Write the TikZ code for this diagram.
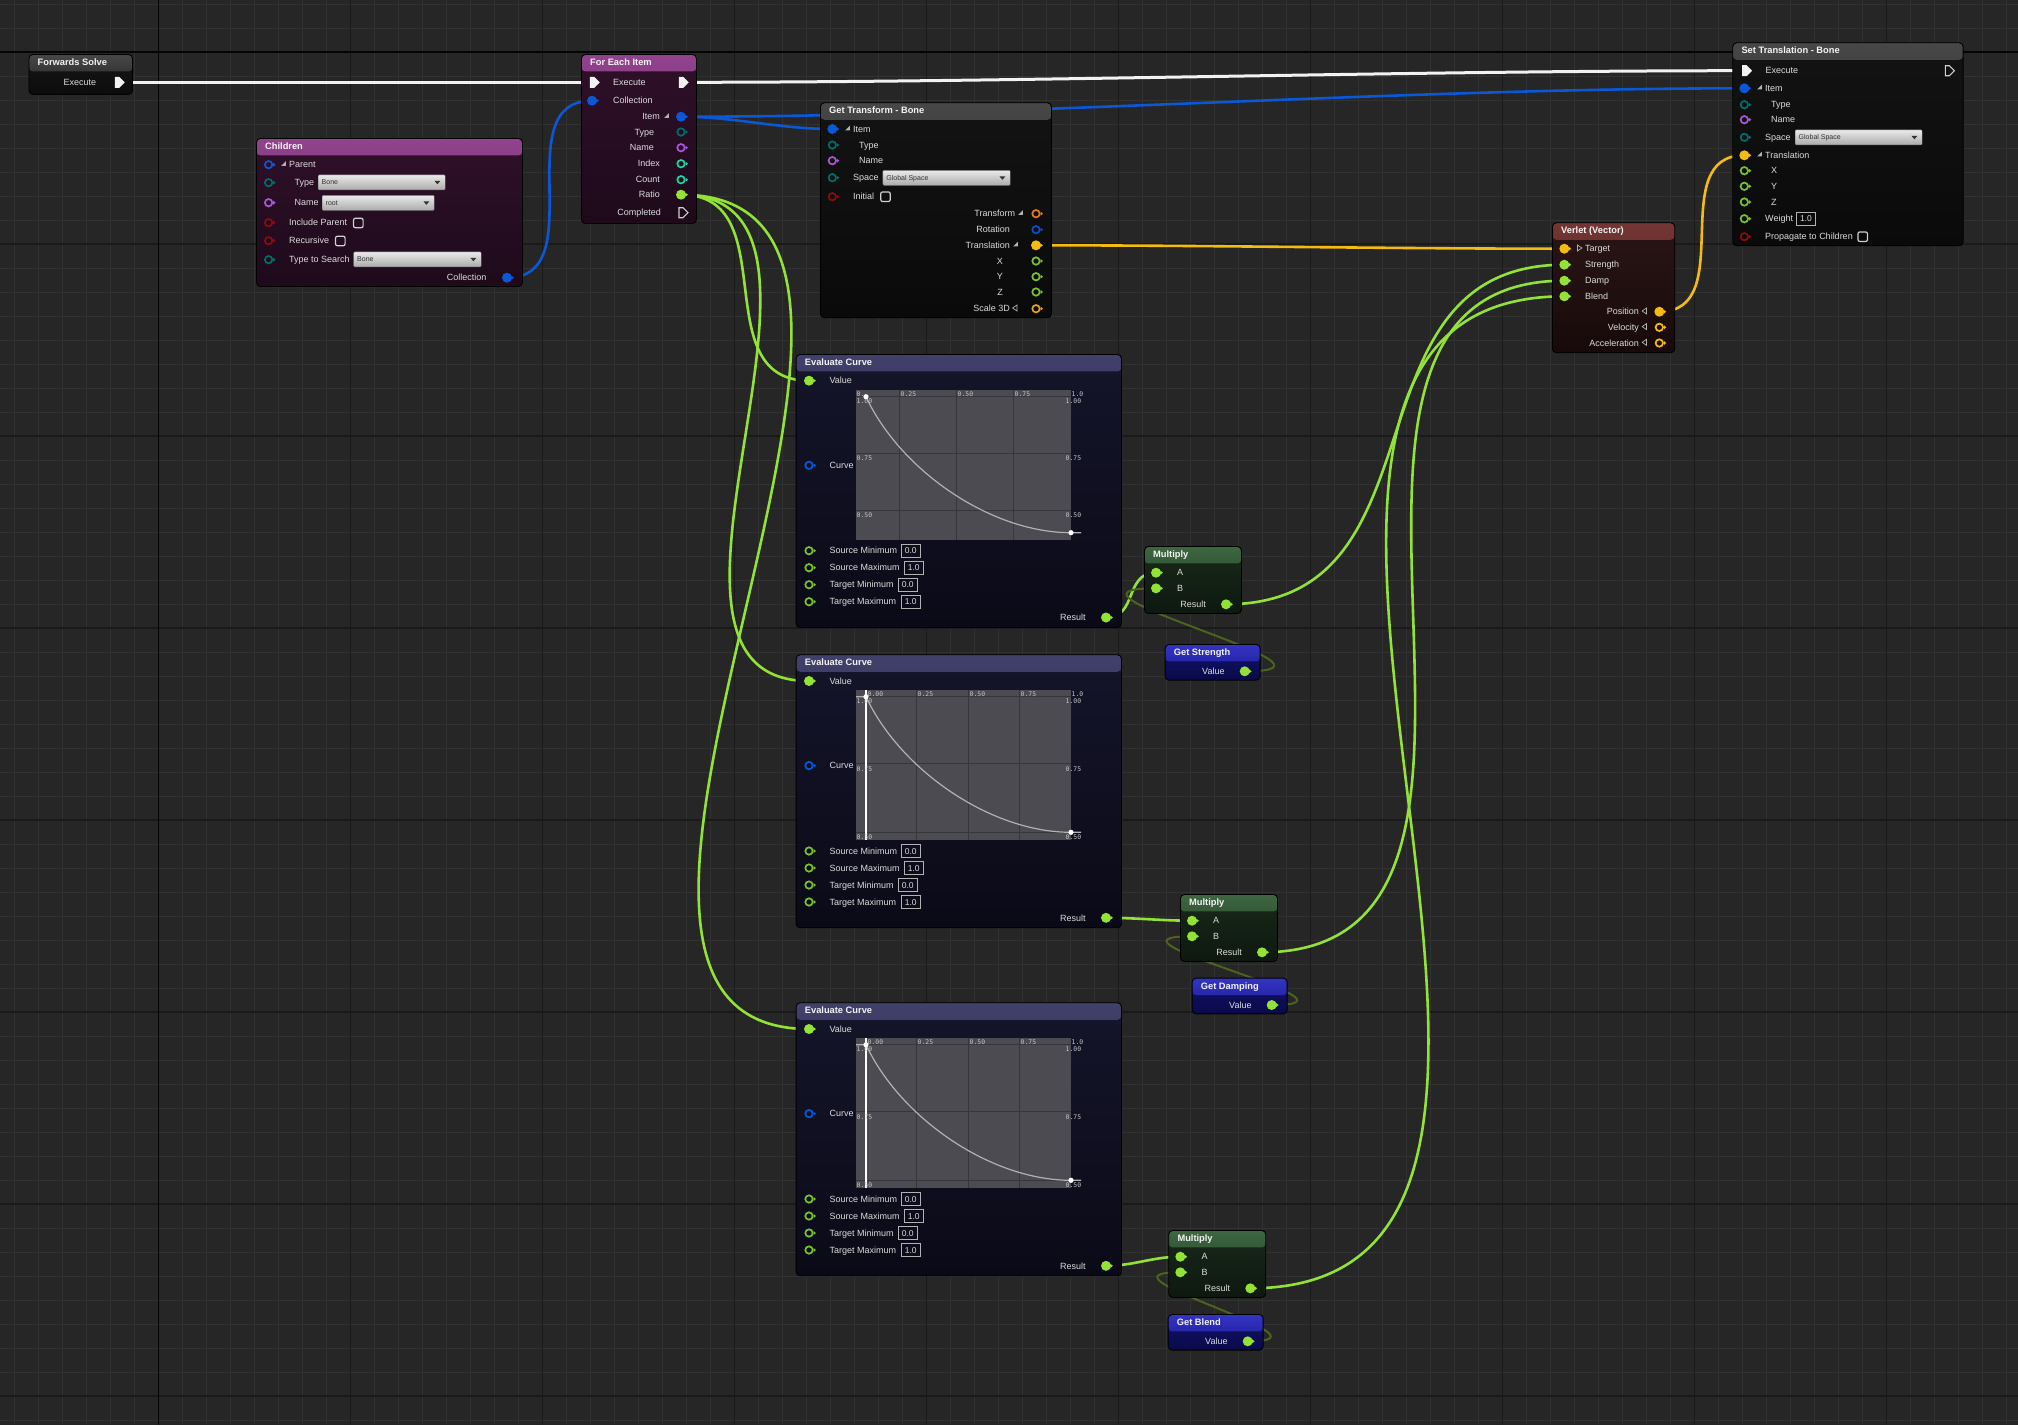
\documentclass[tikz,border=0pt]{standalone}
\usepackage{fontspec}
\setmainfont{Liberation Sans}
\setmonofont{DejaVu Sans Mono}
\usepackage{tikz}
\usetikzlibrary{
  shapes.symbols,
  calc
}
\definecolor{ueBg}{HTML}{262626}
\definecolor{ueMinor}{HTML}{323232}
\definecolor{ueMajor}{HTML}{1A1A1A}
\definecolor{ueAxis}{HTML}{050505}
\definecolor{ueText}{HTML}{DCDCDC}
\definecolor{ueTitle}{HTML}{F4F4F4}
\definecolor{hdExecA}{HTML}{484848}
\definecolor{hdExecB}{HTML}{202020}
\definecolor{bdExecA}{HTML}{171717}
\definecolor{bdExecB}{HTML}{0C0C0C}
\definecolor{hdPurA}{HTML}{93438E}
\definecolor{hdPurB}{HTML}{561D51}
\definecolor{bdPurA}{HTML}{2F1029}
\definecolor{bdPurB}{HTML}{1E0A1B}
\definecolor{hdGreyA}{HTML}{474747}
\definecolor{hdGreyB}{HTML}{1E1E1E}
\definecolor{bdGreyA}{HTML}{131313}
\definecolor{bdGreyB}{HTML}{0A0A0A}
\definecolor{hdVerA}{HTML}{743634}
\definecolor{hdVerB}{HTML}{421A19}
\definecolor{bdVerA}{HTML}{2B1515}
\definecolor{bdVerB}{HTML}{170A0A}
\definecolor{hdCurA}{HTML}{40406A}
\definecolor{hdCurB}{HTML}{1C1C38}
\definecolor{bdCurA}{HTML}{15152B}
\definecolor{bdCurB}{HTML}{0A0A17}
\definecolor{hdMulA}{HTML}{3E6741}
\definecolor{hdMulB}{HTML}{1A331C}
\definecolor{bdMulA}{HTML}{18291A}
\definecolor{bdMulB}{HTML}{0E180F}
\definecolor{hdVarA}{HTML}{3434C4}
\definecolor{hdVarB}{HTML}{18188E}
\definecolor{bdVarA}{HTML}{12126E}
\definecolor{bdVarB}{HTML}{0A0A48}
\definecolor{pinExec}{HTML}{F2F2F2}
\definecolor{pinStruct}{HTML}{0A58D6}
\definecolor{pinEnum}{HTML}{006E68}
\definecolor{pinName}{HTML}{A957D9}
\definecolor{pinInt}{HTML}{1FD3A0}
\definecolor{pinBool}{HTML}{8C0B0B}
\definecolor{pinFloat}{HTML}{93E236}
\definecolor{pinFloatR}{HTML}{78C42C}
\definecolor{pinVec}{HTML}{F4BC12}
\definecolor{pinXform}{HTML}{E47A12}
\definecolor{pinRot}{HTML}{0A4FC8}
\definecolor{pinScale}{HTML}{E2A516}
\definecolor{wireDim}{HTML}{4A6420}
\definecolor{curveBg}{HTML}{4B4B51}
\definecolor{curveGrid}{HTML}{36363B}
\pgfdeclarelayer{grid}
\pgfdeclarelayer{wires}
\pgfsetlayers{grid,wires,main}
\tikzset{
  gminor/.style={ueMinor, line width=1pt},
  gmajor/.style={ueMajor, line width=1.2pt},
  gaxis/.style={ueAxis, line width=1.4pt},
  uebox/.style n args={4}{
    draw=black, line width=0.9pt, rounded corners=4pt, inner sep=0pt,
    top color=#3, bottom color=#4,
    path picture={\shade[top color=#1, bottom color=#2]
      (path picture bounding box.north west) rectangle ([yshift=-17pt]path picture bounding box.north east);}
  },
  thexec/.style={uebox={hdExecA}{hdExecB}{bdExecA}{bdExecB}},
  thpur/.style={uebox={hdPurA}{hdPurB}{bdPurA}{bdPurB}},
  thgrey/.style={uebox={hdGreyA}{hdGreyB}{bdGreyA}{bdGreyB}},
  thver/.style={uebox={hdVerA}{hdVerB}{bdVerA}{bdVerB}},
  thcurve/.style={uebox={hdCurA}{hdCurB}{bdCurA}{bdCurB}},
  thmul/.style={uebox={hdMulA}{hdMulB}{bdMulA}{bdMulB}},
  thvar/.style={uebox={hdVarA}{hdVarB}{bdVarA}{bdVarB}},
  uetitle/.style={font=\bfseries\fontsize{9.3}{10}\selectfont, text=ueTitle, inner sep=0pt,
    text height=6.7pt, text depth=0pt},
  lbl/.style={font=\fontsize{9}{10}\selectfont, text=ueText, inner sep=0pt,
    text height=6.4pt, text depth=0pt},
  pinfill/.style={circle, fill=#1, inner sep=0pt, minimum size=10pt},
  pinring/.style={circle, draw=#1, line width=1.7pt, inner sep=0pt, minimum size=7.4pt},
  pexecon/.style={signal, signal to=east, fill=pinExec, inner sep=0pt,
    minimum width=10pt, minimum height=11pt},
  pexecoff/.style={signal, signal to=east, draw=pinExec!85!black, line width=1.1pt,
    inner sep=0pt, minimum width=9pt, minimum height=10pt},
  dropbox/.style={draw=black!55, top color=black!8, bottom color=black!33,
    rounded corners=1pt, minimum height=15pt, inner sep=0pt},
  droptext/.style={font=\fontsize{7}{8}\selectfont, text=black!80, inner sep=0pt,
    text height=5pt, text depth=0pt},
  chkbox/.style={draw=black!18, line width=1.2pt, rounded corners=2pt,
    minimum size=9.6pt, inner sep=0pt},
  valbox/.style={draw=black!30, line width=0.8pt, minimum height=12.5pt, minimum width=19pt,
    inner sep=0pt, font=\fontsize{8.5}{9}\selectfont, text=ueText, text height=6pt, text depth=0pt},
  iconc/.style={black!30},
  curvegrid/.style={curveGrid, line width=0.9pt},
  curvelbl/.style={font=\ttfamily\fontsize{6.4}{7}\selectfont, text=black!22, inner sep=0pt,
    anchor=west, text height=4.6pt, text depth=0pt},
  curveline/.style={black!30, line width=1.2pt},
  wexec/.style={pinExec, line width=3pt},
  wstruct/.style={pinStruct, line width=2.6pt},
  wvec/.style={pinVec, line width=2.6pt},
  wfloat/.style={pinFloat, line width=2.6pt},
  wdim/.style={wireDim, line width=2pt}
}
\newcommand{\uenode}[7]{%
  \node[#2, minimum width=#5pt, minimum height=#6pt, anchor=north west] (#1) at (#3,#4) {};
  \node[uetitle, anchor=west] (#1-title) at ([xshift=9pt,yshift=-8.3pt]#1.north west) {#7};}
\newcommand{\pinon}[4]{%
  \node[pinfill=#4] (#1) at (#2,#3) {};
  \fill[#4] ([xshift=4.3pt,yshift=2.1pt]#1.center) -- ++(2.6pt,-2.1pt) -- ++(-2.6pt,-2.1pt) -- cycle;}
\newcommand{\pinoff}[4]{%
  \node[pinring=#4] (#1) at (#2,#3) {};
  \fill[#4] ([xshift=4.6pt,yshift=2pt]#1.center) -- ++(2.4pt,-2pt) -- ++(-2.4pt,-2pt) -- cycle;}
\newcommand{\lblL}[4]{\node[lbl, anchor=west] (#1) at (#2,#3) {#4};}
\newcommand{\lblR}[4]{\node[lbl, anchor=east] (#1) at (#2,#3) {#4};}
\newcommand{\expicon}[2]{\fill[iconc] ({#1-2.4},{#2+2.4}) -- ({#1+2.4},{#2+2.4}) -- ({#1+2.4},{#2-2.4}) -- cycle;}
\newcommand{\inicon}[2]{\draw[iconc, line width=0.7pt] ({#1-2},{#2-3}) -- ({#1+2.4},{#2}) -- ({#1-2},{#2+3}) -- cycle;}
\newcommand{\outicon}[2]{\draw[iconc, line width=0.7pt] ({#1+2},{#2-3}) -- ({#1-2.4},{#2}) -- ({#1+2},{#2+3}) -- cycle;}
\newcommand{\uedrop}[5]{%
  \node[dropbox, minimum width=#4pt, anchor=west] (#1) at (#2,#3) {};
  \node[droptext, anchor=west] (#1-t) at ([xshift=3.5pt]#1.west) {#5};
  \fill[black!80] ([xshift=-11pt,yshift=1.5pt]#1.east) -- ++(6pt,0) -- ++(-3pt,-3.5pt) -- cycle;}
\newcommand{\wire}[4]{\draw[#1] (#2.center) .. controls +(#4,0) and +(-#4,0) .. (#3.center);}
\newcommand{\uemult}[3]{%
  \uenode{#1}{thmul}{#2}{#3}{97}{67}{Multiply}
  \pinon{#1-a}{#2+12}{#3+26.7}{pinFloat}
  \pinon{#1-b}{#2+12}{#3+42.3}{pinFloat}
  \pinon{#1-res}{#2+82}{#3+58.3}{pinFloat}
  \lblL{#1-la}{#2+33}{#3+26.7}{A}
  \lblL{#1-lb}{#2+33}{#3+42.3}{B}
  \lblR{#1-lr}{#2+62}{#3+58.3}{Result}}
\newcommand{\uegetvar}[4]{%
  \uenode{#1}{thvar}{#2}{#3}{95}{35.7}{#4}
  \pinon{#1-val}{#2+80}{#3+27.3}{pinFloat}
  \lblR{#1-lv}{#2+60}{#3+27.3}{Value}}
\newcommand{\uecurve}[3]{%
  \fill[curveBg] (856,#2+36) rectangle (1071,#2+185.7);
  \ifnum#3=1
    \foreach \gx in {899.3,956.3,1013.3} \draw[curvegrid] (\gx,#2+36) -- (\gx,#2+185.7);
    \foreach \gy in {42.7,99.3,156} \draw[curvegrid] (856,#2+\gy) -- (1071,#2+\gy);
    \foreach \lx/\lt [count=\i] in {856.5/0.,900.5/0.25,957.5/0.50,1014.5/0.75,1071.5/1.0}
      \node[curvelbl] (#1-top\i) at (\lx,#2+40.5) {\lt};
    \foreach \gy/\lt [count=\i] in {47/1.00,104.3/0.75,161.3/0.50} {
      \node[curvelbl] (#1-left\i) at (856.5,#2+\gy) {\lt};
      \node[curvelbl] (#1-right\i) at (1065.5,#2+\gy) {\lt};}
    \draw[curveline] (866,#2+42.7) .. controls (900,#2+115.8) and (990,#2+178.7) .. (1071,#2+178.7) -- (1081,#2+178.7);
    \fill[white] (866,#2+42.7) circle (2.6pt) (1071,#2+178.7) circle (2.6pt);
  \else
    \foreach \gx in {916.7,968.7,1019.7} \draw[curvegrid] (\gx,#2+36) -- (\gx,#2+185.7);
    \foreach \gy in {42.4,109,178} \draw[curvegrid] (856,#2+\gy) -- (1071,#2+\gy);
    \draw[white, line width=1.2pt] (866,#2+36) -- (866,#2+185.7);
    \foreach \lx/\lt [count=\i] in {867.5/0.00,917.5/0.25,969.5/0.50,1020.5/0.75,1071.5/1.0}
      \node[curvelbl] (#1-top\i) at (\lx,#2+39.7) {\lt};
    \foreach \gy/\lt [count=\i] in {47/1.00,115/0.75,183/0.50} {
      \node[curvelbl] (#1-left\i) at (856.5,#2+\gy) {\lt};
      \node[curvelbl] (#1-right\i) at (1065.5,#2+\gy) {\lt};}
    \draw[curveline] (856,#2+42.4) -- (866,#2+42.4) .. controls (900,#2+115.2) and (990,#2+178) .. (1071,#2+178) -- (1081,#2+178);
    \fill[white] (866,#2+42.4) circle (2.6pt) (1071,#2+178) circle (2.6pt);
  \fi}

\begin{document}
\begin{tikzpicture}[x=1pt, y=-1pt]
  \useasboundingbox (0,0) rectangle (2018,1425);
  \begin{pgfonlayer}{grid}
    \fill[ueBg] (0,0) rectangle (2018,1425);
    \foreach \i in {0,...,83} \draw[gminor] ({14.3+24*\i},0) -- ++(0,1425);
    \foreach \i in {0,...,59} \draw[gminor] (0,{4+24*\i}) -- ++(2018,0);
    \foreach \i in {0,...,10} \draw[gmajor] ({-33.7+192*\i},0) -- ++(0,1425);
    \foreach \i in {0,...,7} \draw[gmajor] (0,{52+192*\i}) -- ++(2018,0);
    \draw[gaxis] (158.3,0) -- ++(0,1425);
    \draw[gaxis] (0,52) -- ++(2018,0);
  \end{pgfonlayer}

  % Forwards Solve
  \uenode{fs}{thexec}{28.5}{54}{103.5}{40}{Forwards Solve}
  \lblR{fs-l1}{96.4}{82.3}{Execute}
  \node[pexecon] (fs-exec) at (117,82.3) {};

  % For Each Item
  \uenode{fe}{thpur}{581}{54}{115}{169}{For Each Item}
  \node[pexecon] (fe-exec) at (592,82.3) {};
  \lblL{fe-l1}{613}{82.3}{Execute}
  \pinon{fe-coll}{592}{100.7}{pinStruct}
  \lblL{fe-l2}{613}{100.7}{Collection}
  \node[pexecon] (fe-then) at (681,82.3) {};
  \pinon{fe-item}{681}{116.7}{pinStruct}
  \lblR{fe-l3}{660}{116.7}{Item}
  \expicon{666.5}{115.5}
  \pinoff{fe-type}{681}{132}{pinEnum}
  \lblR{fe-l4}{654.3}{132}{Type}
  \pinoff{fe-name}{681}{147.7}{pinName}
  \lblR{fe-l5}{654}{147.7}{Name}
  \pinoff{fe-index}{681}{163.7}{pinInt}
  \lblR{fe-l6}{660}{163.7}{Index}
  \pinoff{fe-count}{681}{179.7}{pinInt}
  \lblR{fe-l7}{660}{179.7}{Count}
  \pinon{fe-ratio}{681}{194.7}{pinFloat}
  \lblR{fe-l8}{660}{194.7}{Ratio}
  \node[pexecoff] (fe-done) at (681,212.7) {};
  \lblR{fe-l9}{661}{212.7}{Completed}

  % Children
  \uenode{ch}{thpur}{256}{138}{266}{148}{Children}
  \pinoff{ch-parent}{268.6}{164.7}{pinStruct}
  \expicon{283.5}{163.5}
  \lblL{ch-l1}{289}{164.7}{Parent}
  \pinoff{ch-type}{268.6}{182.7}{pinEnum}
  \lblL{ch-l2}{294.3}{182.7}{Type}
  \uedrop{ch-typedd}{318}{182.3}{127}{Bone}
  \pinoff{ch-name}{268.6}{202.7}{pinName}
  \lblL{ch-l3}{294.3}{202.7}{Name}
  \uedrop{ch-namedd}{322}{202.8}{112}{root}
  \pinoff{ch-incl}{268.6}{222.7}{pinBool}
  \lblL{ch-l4}{289}{222.7}{Include Parent}
  \node[chkbox] (ch-inclbox) at (358.3,223) {};
  \pinoff{ch-rec}{268.6}{240.7}{pinBool}
  \lblL{ch-l5}{289}{240.7}{Recursive}
  \node[chkbox] (ch-recbox) at (340.3,241) {};
  \pinoff{ch-search}{268.6}{259.7}{pinEnum}
  \lblL{ch-l6}{289}{259.7}{Type to Search}
  \uedrop{ch-searchdd}{353.5}{259.3}{127.5}{Bone}
  \pinon{ch-coll}{507}{277.7}{pinStruct}
  \lblR{ch-l7}{486.7}{277.7}{Collection}

  % Get Transform - Bone
  \uenode{gt}{thgrey}{820}{102.3}{231}{215}{Get Transform - Bone}
  \pinon{gt-item}{832.3}{129}{pinStruct}
  \expicon{847.5}{128}
  \lblL{gt-l1}{853}{129}{Item}
  \pinoff{gt-type}{832.3}{145}{pinEnum}
  \lblL{gt-l2}{859}{145}{Type}
  \pinoff{gt-name}{832.3}{160.7}{pinName}
  \lblL{gt-l3}{859}{160.7}{Name}
  \pinoff{gt-space}{832.3}{177.7}{pinEnum}
  \lblL{gt-l4}{853}{177.7}{Space}
  \uedrop{gt-spacedd}{882.7}{177.8}{127.3}{Global Space}
  \pinoff{gt-init}{832.3}{196.7}{pinBool}
  \lblL{gt-l5}{853}{196.7}{Initial}
  \node[chkbox] (gt-initbox) at (885.5,196.7) {};
  \pinoff{gt-xform}{1036}{213.7}{pinXform}
  \lblR{gt-l6}{1015.3}{213.7}{Transform}
  \expicon{1020.5}{212.5}
  \pinoff{gt-rot}{1036}{229.7}{pinRot}
  \lblR{gt-l7}{1010}{229.7}{Rotation}
  \pinon{gt-trans}{1036}{245.3}{pinVec}
  \lblR{gt-l8}{1010}{245.3}{Translation}
  \expicon{1015.5}{244}
  \pinoff{gt-x}{1036}{261}{pinFloatR}
  \lblR{gt-l9}{1003}{261}{X}
  \pinoff{gt-y}{1036}{276.7}{pinFloatR}
  \lblR{gt-l10}{1003}{276.7}{Y}
  \pinoff{gt-z}{1036}{292}{pinFloatR}
  \lblR{gt-l11}{1003}{292}{Z}
  \pinoff{gt-scale}{1036}{308.7}{pinScale}
  \lblR{gt-l12}{1010}{308.7}{Scale 3D}
  \outicon{1015}{308}

  % Set Translation - Bone
  \uenode{st}{thgrey}{1732.3}{42.3}{230.4}{203}{Set Translation - Bone}
  \node[pexecon] (st-exec) at (1744.3,70.7) {};
  \lblL{st-l1}{1765.3}{70.7}{Execute}
  \node[pexecoff] (st-then) at (1947.3,70.7) {};
  \pinon{st-item}{1744.3}{88.3}{pinStruct}
  \expicon{1759.5}{87}
  \lblL{st-l2}{1765}{88.3}{Item}
  \pinoff{st-type}{1744.3}{104.7}{pinEnum}
  \lblL{st-l3}{1771}{104.7}{Type}
  \pinoff{st-name}{1744.3}{119.7}{pinName}
  \lblL{st-l4}{1771}{119.7}{Name}
  \pinoff{st-space}{1744.3}{137.3}{pinEnum}
  \lblL{st-l5}{1765}{137.3}{Space}
  \uedrop{st-spacedd}{1795}{137.3}{127}{Global Space}
  \pinon{st-trans}{1744.3}{155.3}{pinVec}
  \expicon{1759.5}{154}
  \lblL{st-l6}{1765}{155.3}{Translation}
  \pinoff{st-x}{1744.3}{170.7}{pinFloatR}
  \lblL{st-l7}{1771}{170.7}{X}
  \pinoff{st-y}{1744.3}{186.3}{pinFloatR}
  \lblL{st-l8}{1771}{186.3}{Y}
  \pinoff{st-z}{1744.3}{202}{pinFloatR}
  \lblL{st-l9}{1771}{202}{Z}
  \pinoff{st-weight}{1744.3}{218.7}{pinFloatR}
  \lblL{st-l10}{1765}{218.7}{Weight}
  \node[valbox] (st-weightbox) at (1806,218.7) {1.0};
  \pinoff{st-prop}{1744.3}{236.7}{pinBool}
  \lblL{st-l11}{1765}{236.7}{Propagate to Children}
  \node[chkbox] (st-propbox) at (1862.7,236.7) {};

  % Verlet (Vector)
  \uenode{vv}{thver}{1552}{222.3}{122.3}{130}{Verlet (Vector)}
  \pinon{vv-target}{1564.3}{248.7}{pinVec}
  \inicon{1579.5}{248}
  \lblL{vv-l1}{1585}{248.7}{Target}
  \pinon{vv-str}{1564.3}{264.7}{pinFloat}
  \lblL{vv-l2}{1585}{264.7}{Strength}
  \pinon{vv-damp}{1564.3}{280.7}{pinFloat}
  \lblL{vv-l3}{1585}{280.7}{Damp}
  \pinon{vv-blend}{1564.3}{296.3}{pinFloat}
  \lblL{vv-l4}{1585}{296.3}{Blend}
  \pinon{vv-pos}{1659.3}{311.7}{pinVec}
  \lblR{vv-l5}{1639}{311.7}{Position}
  \outicon{1644.5}{311}
  \pinoff{vv-vel}{1659.3}{327.3}{pinVec}
  \lblR{vv-l6}{1639}{327.3}{Velocity}
  \outicon{1644.5}{326.6}
  \pinoff{vv-acc}{1659.3}{343}{pinVec}
  \lblR{vv-l7}{1639}{343}{Acceleration}
  \outicon{1644.5}{342.3}

  % Evaluate Curve x3
  \foreach \cn/\ty in {1/354,2/654.3,3/1002.3} {
    \uenode{ec\cn}{thcurve}{795.7}{\ty}{325.3}{273}{Evaluate Curve}
    \pinon{ec\cn-value}{809}{\ty+26.7}{pinFloat}
    \lblL{ec\cn-lv}{829.3}{\ty+26.7}{Value}
    \pinoff{ec\cn-curve}{809}{\ty+111.3}{pinStruct}
    \lblL{ec\cn-lc}{829.3}{\ty+111.3}{Curve}
    \uecurve{ec\cn}{\ty}{\cn}
    \foreach \lab/\val/\yy/\bx [count=\k] in {Source Minimum/0.0/196.7/910.8,
        Source Maximum/1.0/213.7/913.8, Target Minimum/0.0/230.7/907.8,
        Target Maximum/1.0/247.7/910.8} {
      \pinoff{ec\cn-in\k}{809}{\ty+\yy}{pinFloatR}
      \lblL{ec\cn-l\k}{829.3}{\ty+\yy}{\lab}
      \node[valbox] (ec\cn-v\k) at (\bx,\ty+\yy) {\val};
    }
    \pinon{ec\cn-res}{1106}{\ty+263.5}{pinFloat}
    \lblR{ec\cn-lr}{1085.7}{\ty+263.5}{Result}
  }

  % Multiply and variables
  \uemult{mu1}{1144}{546}
  \uemult{mu2}{1180}{894}
  \uemult{mu3}{1168.3}{1230}
  \uegetvar{gs}{1164.7}{644}{Get Strength}
  \uegetvar{gd}{1191.7}{977.7}{Get Damping}
  \uegetvar{gb}{1167.7}{1314}{Get Blend}

  \begin{pgfonlayer}{wires}
    \draw[wexec] (fs-exec.center) -- (fe-exec.center);
    \wire{wexec}{fe-then}{st-exec}{337}
    \wire{wstruct}{ch-coll}{fe-coll}{87}
    \wire{wstruct}{fe-item}{gt-item}{54}
    \wire{wstruct}{fe-item}{st-item}{343}
    \wire{wvec}{gt-trans}{vv-target}{177}
    \wire{wvec}{vv-pos}{st-trans}{80}
    \wire{wfloat}{fe-ratio}{ec1-value}{105}
    \wire{wfloat}{fe-ratio}{ec2-value}{205}
    \wire{wfloat}{fe-ratio}{ec3-value}{321}
    \wire{wfloat}{ec1-res}{mu1-a}{32}
    \wire{wfloat}{ec2-res}{mu2-a}{30}
    \wire{wfloat}{ec3-res}{mu3-a}{28}
    \wire{wfloat}{mu1-res}{vv-str}{226}
    \wire{wfloat}{mu2-res}{vv-damp}{324}
    \wire{wfloat}{mu3-res}{vv-blend}{435}
    \wire{wdim}{gs-val}{mu1-b}{130}
    \wire{wdim}{gd-val}{mu2-b}{113}
    \wire{wdim}{gb-val}{mu3-b}{101}
  \end{pgfonlayer}
\end{tikzpicture}
\end{document}
